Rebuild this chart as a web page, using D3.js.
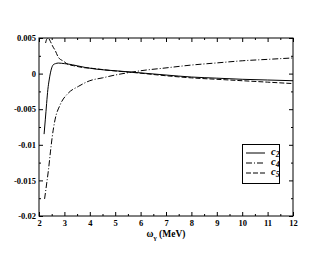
<!DOCTYPE html>
<html>
<head>
<meta charset="utf-8">
<script src="https://cdn.jsdelivr.net/npm/d3@7"></script>
<style>
  body { margin: 0; background: #fff; }
  svg text { font-family: "Liberation Serif", "DejaVu Serif", serif; font-weight: bold; }
</style>
</head>
<body>
<svg id="chart" width="330" height="255"></svg>
<script>
// values
const c2 = [[2.2,-0.0085],[2.25,-0.0064],[2.3,-0.0042],[2.35,-0.0022],[2.4,-0.0009],[2.45,0.0001],[2.5,0.0008],[2.56,0.00124],[2.65,0.0014],[2.76,0.00148],[3,0.0014],[3.15,0.00134],[3.5,0.0011],[3.8,0.00088],[4.2,0.00065],[5,0.0004],[6,0.0001],[7,-0.0002],[8,-0.00048],[9,-0.00064],[10,-0.0008],[11,-0.0009],[12,-0.001]];
const c4 = [[2.22,-0.0176],[2.3,-0.0155],[2.37,-0.0136],[2.45,-0.011],[2.52,-0.0089],[2.63,-0.0065],[2.83,-0.0044],[3.15,-0.00275],[3.55,-0.0018],[4,-0.001],[4.5,-0.0006],[5,-0.0002],[5.5,0.00012],[6,0.0004],[7,0.0008],[8,0.0012],[9,0.0015],[10,0.0018],[11,0.002],[12,0.0022]];
const c5 = [[2.26,0.0043],[2.3,0.0048],[2.36,0.005],[2.45,0.0045],[2.56,0.0037],[2.63,0.0033],[2.76,0.0023],[2.96,0.00175],[3.15,0.00128],[3.35,0.00112],[3.8,0.00082],[4,0.00077],[4.8,0.00044],[5.7,0.00016],[7,-0.0003],[8,-0.0006],[9,-0.0008],[10,-0.001],[11,-0.0012],[12,-0.0014]];

const xTicks = [2,3,4,5,6,7,8,9,10,11,12];
const yTicks = [-0.02,-0.015,-0.01,-0.005,0,0.005];
const yTickLabels = ["-0.02","-0.015","-0.01","-0.005","0","0.005"];
const seriesNames = ["c2","c4","c5"];

const svg = d3.select('#chart');
const margin = { top: 38, right: 37, bottom: 39, left: 39 };
const width = 330, height = 255;

const x = d3.scaleLinear().domain([2, 12]).range([margin.left, width - margin.right]);
const y = d3.scaleLinear().domain([-0.02, 0.005]).range([height - margin.bottom, margin.top]);

const minorX = d3.range(2.5, 12, 1);
const minorY = [-0.0175,-0.0125,-0.0075,-0.0025,0.0025];

// ticks pointing inward on all four sides
function drawAxis(axis, pos, ticks, minor, labels) {
    const g = svg.append('g').attr('transform', pos);
    g.call(axis.tickValues(ticks).tickSize(-4).tickFormat(labels ? (d, i) => labels[i] : ''));
    g.select('.domain').remove();
    const g2 = svg.append('g').attr('transform', pos);
    g2.call(axis.tickValues(minor).tickSize(-2).tickFormat(''));
    g2.select('.domain').remove();
    return g;
}

const gb = drawAxis(d3.axisBottom(x), `translate(0,${y(-0.02)})`, xTicks, minorX, xTicks.map(String));
gb.selectAll('text').attr('y', 4).attr('font-size', 8.5);
drawAxis(d3.axisTop(x), `translate(0,${y(0.005)})`, xTicks, minorX, null);
const gl = drawAxis(d3.axisLeft(y), `translate(${x(2)},0)`, yTicks, minorY, yTickLabels);
gl.selectAll('text').attr('x', -3).attr('font-size', 8.5);
drawAxis(d3.axisRight(y), `translate(${x(12)},0)`, yTicks, minorY, null);

svg.selectAll('.tick line').attr('stroke', '#000');
svg.selectAll('.tick text').attr('fill', '#000');

svg.append('rect')
    .attr('x', x(2)).attr('y', y(0.005))
    .attr('width', x(12) - x(2)).attr('height', y(-0.02) - y(0.005))
    .attr('fill', 'none').attr('stroke', '#000').attr('stroke-width', 1);

// clip curves to the frame
svg.append('clipPath').attr('id', 'clip').append('rect')
    .attr('x', x(2)).attr('y', y(0.005))
    .attr('width', x(12) - x(2)).attr('height', y(-0.02) - y(0.005));

const line = d3.line().x(d => x(d[0])).y(d => y(d[1])).curve(d3.curveMonotoneX);
const styles = [
    { data: c2, dash: null },
    { data: c4, dash: '6,2,1,2' },
    { data: c5, dash: '5,2' }
];

styles.forEach(s => {
    svg.append('path')
        .attr('d', line(s.data))
        .attr('clip-path', 'url(#clip)')
        .attr('fill', 'none')
        .attr('stroke', '#000')
        .attr('stroke-width', 1)
        .attr('stroke-dasharray', s.dash);
});

// legend
const lg = svg.append('g');
lg.append('rect').attr('x', 242.5).attr('y', 144.5).attr('width', 37).attr('height', 39)
    .attr('fill', '#fff').attr('stroke', '#000').attr('stroke-width', 1);
styles.forEach((s, i) => {
    const ly = 153 + i * 10;
    lg.append('line').attr('x1', 246).attr('x2', 265).attr('y1', ly).attr('y2', ly)
        .attr('stroke', '#000').attr('stroke-width', 1).attr('stroke-dasharray', s.dash);
    const t = lg.append('text').attr('x', 271).attr('y', ly + 2).attr('font-size', 10.5)
        .attr('font-style', 'italic');
    t.append('tspan').text(seriesNames[i][0]);
    t.append('tspan').attr('font-size', 7.5).attr('dy', 2).text(seriesNames[i].slice(1));
});

// x axis title
const xt = svg.append('text').attr('x', x(7)).attr('y', 237).attr('text-anchor', 'middle').attr('font-size', 9.5);
xt.append('tspan').text('ω');
xt.append('tspan').attr('font-size', 7).attr('dy', 2.5).text('γ');
xt.append('tspan').attr('dy', -2.5).text(' (MeV)');
</script>
</body>
</html>
